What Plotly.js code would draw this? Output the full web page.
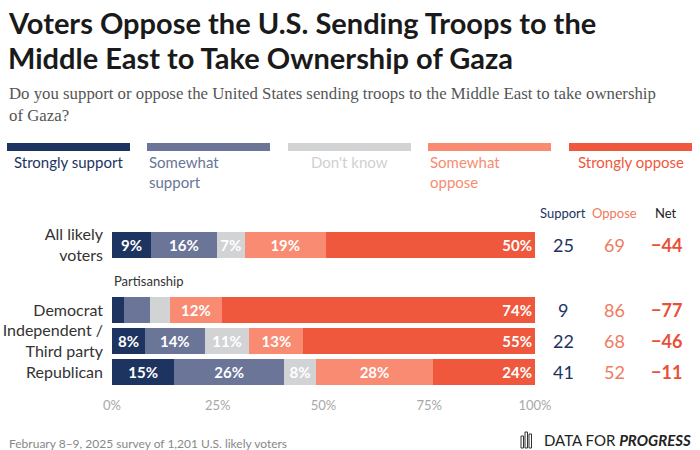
<!DOCTYPE html>
<html>
<head>
<meta charset="utf-8">
<script src="https://cdn.plot.ly/plotly-3.0.1.min.js"></script>
<style>html,body{margin:0;padding:0;background:#fff;}#chart{width:700px;height:450px;}</style>
</head>
<body>
<div id="chart"></div>
<script>
// ---------- DATA ----------
const titleLines = ['Voters Oppose the U.S. Sending Troops to the', 'Middle East to Take Ownership of Gaza'];
const categories = ['All likely<br>voters', 'Democrat', 'Independent /<br>Third party', 'Republican'];
const responses = ['Strongly support', 'Somewhat<br>support', "Don't know", 'Somewhat<br>oppose', 'Strongly oppose'];
// estimated unrounded shares
const stronglySupport = [9.2, 2.9, 7.8, 14.7];
const somewhatSupport = [15.6, 6.1, 14.1, 26.0];
const dontKnow        = [6.6, 4.8, 10.6, 7.5];
const somewhatOppose  = [19.1, 12.1, 12.7, 27.7];
const stronglyOppose  = [49.5, 74.1, 54.8, 24.1];
// printed segment labels
const lblStronglySupport = ['9%', '', '8%', '15%'];
const lblSomewhatSupport = ['16%', '', '14%', '26%'];
const lblDontKnow        = ['7%', '', '11%', '8%'];
const lblSomewhatOppose  = ['19%', '12%', '13%', '28%'];
const lblStronglyOppose  = ['50%', '74%', '55%', '24%'];
// summary columns
const supportTotal = [25, 9, 22, 41];
const opposeTotal  = [69, 86, 68, 52];
const netTotal     = ['−44', '−77', '−46', '−11'];
const xTickVals = [0, 25, 50, 75, 100];
const xTickText = ['0%', '25%', '50%', '75%', '100%'];

// ---------- LAYOUT / STYLE ----------
const ROW_Y = [0, 2.1, 3.1, 4.1];
const COLORS = ['#1d3461', '#6a7598', '#d2d3d5', '#f88b72', '#ef583c'];
const LABEL_COLORS = ['#1d3461', '#6a7598', '#cfd0d2', '#f88b72', '#ef583c'];
const FONT = 'Lato, "Open Sans", sans-serif';
const M = {l: 112, r: 165, t: 225, b: 54};
const W = 700, H = 450;
const PW = W - M.l - M.r, PH = H - M.t - M.b;
const px2x = px => (px - M.l) / PW;
const px2y = py => (H - M.b - py) / PH;

const series = [stronglySupport, somewhatSupport, dontKnow, somewhatOppose, stronglyOppose];
const labels = [lblStronglySupport, lblSomewhatSupport, lblDontKnow, lblSomewhatOppose, lblStronglyOppose];

const traces = series.map((vals, i) => ({
  type: 'bar', orientation: 'h',
  x: vals, y: ROW_Y,
  width: 0.84,
  name: responses[i],
  marker: {color: COLORS[i], line: {width: 0}},
  text: labels[i],
  textposition: 'inside',
  insidetextanchor: i === 4 ? 'end' : 'middle',
  textfont: {family: FONT, size: 15, color: '#ffffff', weight: 'bold'},
  hoverinfo: 'skip',
  showlegend: false
}));

const annotations = [];
const shapes = [];

// title lines
const titleY = [22, 57];
titleLines.forEach((t, i) => annotations.push({
  xref: 'paper', yref: 'paper', x: px2x(6), y: px2y(titleY[i]), xanchor: 'left', yanchor: 'middle',
  text: '<b>' + t + '</b>', showarrow: false,
  font: {family: FONT, size: 29, color: '#1a1a1a'}
}));

// subtitle
annotations.push({
  xref: 'paper', yref: 'paper', x: px2x(7), y: px2y(82), xanchor: 'left', yanchor: 'top',
  text: 'Do you support or oppose the United States sending troops to the Middle East to take ownership<br>of Gaza?',
  align: 'left', showarrow: false,
  font: {family: '"Liberation Serif", "DejaVu Serif", serif', size: 16.8, color: '#555555'}
});

// custom legend
const legendLeft = [7, 147, 288, 428, 569];
const legendW = 123;
responses.forEach((r, i) => {
  shapes.push({type: 'rect', xref: 'paper', yref: 'paper',
    x0: px2x(legendLeft[i]), x1: px2x(legendLeft[i] + legendW),
    y0: px2y(151), y1: px2y(143), fillcolor: COLORS[i], line: {width: 0}});
  const twoLine = r.indexOf('<br>') >= 0;
  annotations.push({
    xref: 'paper', yref: 'paper',
    x: twoLine ? px2x(legendLeft[i]) : px2x(legendLeft[i] + legendW / 2),
    xanchor: twoLine ? 'left' : 'center',
    y: px2y(151), yanchor: 'top', align: 'left',
    text: r, showarrow: false,
    font: {family: FONT, size: 15, color: LABEL_COLORS[i]}
  });
});

// column headers
const colX = [563, 614, 666];
const headers = ['Support', 'Oppose', 'Net'];
const headerColors = ['#1d3461', '#f07a60', '#222222'];
headers.forEach((h, i) => annotations.push({
  xref: 'paper', yref: 'paper', x: px2x(colX[i]), y: px2y(213), xanchor: 'center', yanchor: 'middle',
  text: h, showarrow: false, font: {family: FONT, size: 13, color: headerColors[i]}
}));

// summary numbers
categories.forEach((c, j) => {
  annotations.push({xref: 'paper', yref: 'y', x: px2x(colX[0]), y: ROW_Y[j], xanchor: 'center', yanchor: 'middle',
    text: String(supportTotal[j]), showarrow: false, font: {family: FONT, size: 18, color: '#1d3461'}});
  annotations.push({xref: 'paper', yref: 'y', x: px2x(colX[1]), y: ROW_Y[j], xanchor: 'center', yanchor: 'middle',
    text: String(opposeTotal[j]), showarrow: false, font: {family: FONT, size: 18, color: '#f07a60'}});
  annotations.push({xref: 'paper', yref: 'y', x: px2x(colX[2]), y: ROW_Y[j], xanchor: 'center', yanchor: 'middle',
    text: '<b>' + netTotal[j] + '</b>', showarrow: false, font: {family: FONT, size: 18, color: '#e8503a'}});
});

// section label
annotations.push({xref: 'paper', yref: 'paper', x: px2x(112), y: px2y(281), xanchor: 'left', yanchor: 'middle',
  text: 'Partisanship', showarrow: false, font: {family: FONT, size: 13, color: '#333333'}});

// footer
annotations.push({xref: 'paper', yref: 'paper', x: px2x(7), y: px2y(443), xanchor: 'left', yanchor: 'middle',
  text: 'February 8–9, 2025 survey of 1,201 U.S. likely voters', showarrow: false,
  font: {family: FONT, size: 12, color: '#888888'}});
annotations.push({xref: 'paper', yref: 'paper', x: px2x(693), y: px2y(440), xanchor: 'right', yanchor: 'middle',
  text: 'DATA FOR <b><i>PROGRESS</i></b>', showarrow: false,
  font: {family: FONT, size: 15, color: '#222222'}});
// small logo icon
[[521, 436], [525, 432], [529, 434]].forEach(p => shapes.push({type: 'rect', xref: 'paper', yref: 'paper',
  x0: px2x(p[0]), x1: px2x(p[0] + 2.5), y0: px2y(448), y1: px2y(p[1]), fillcolor: 'rgba(0,0,0,0)',
  line: {color: '#333', width: 1}}));

const layout = {
  width: W, height: H,
  margin: M,
  paper_bgcolor: '#ffffff', plot_bgcolor: '#ffffff',
  barmode: 'stack', bargap: 0,
  font: {family: FONT, color: '#333333'},
  xaxis: {
    range: [0, 100], tickvals: xTickVals, ticktext: xTickText,
    showgrid: false, zeroline: false, showline: false, ticks: '',
    tickfont: {family: FONT, size: 13, color: '#a8a8a8'}, fixedrange: true
  },
  yaxis: {
    range: [4.87, -0.645], tickvals: ROW_Y, ticktext: categories,
    showgrid: false, zeroline: false, showline: false, ticks: '',
    ticklabelstandoff: 8,
    tickfont: {family: FONT, size: 16, color: '#333333'}, fixedrange: true
  },
  annotations: annotations,
  shapes: shapes,
  uniformtext: {mode: 'show', minsize: 8}
};

Plotly.newPlot('chart', traces, layout, {displayModeBar: false, staticPlot: true});
</script>
</body>
</html>
